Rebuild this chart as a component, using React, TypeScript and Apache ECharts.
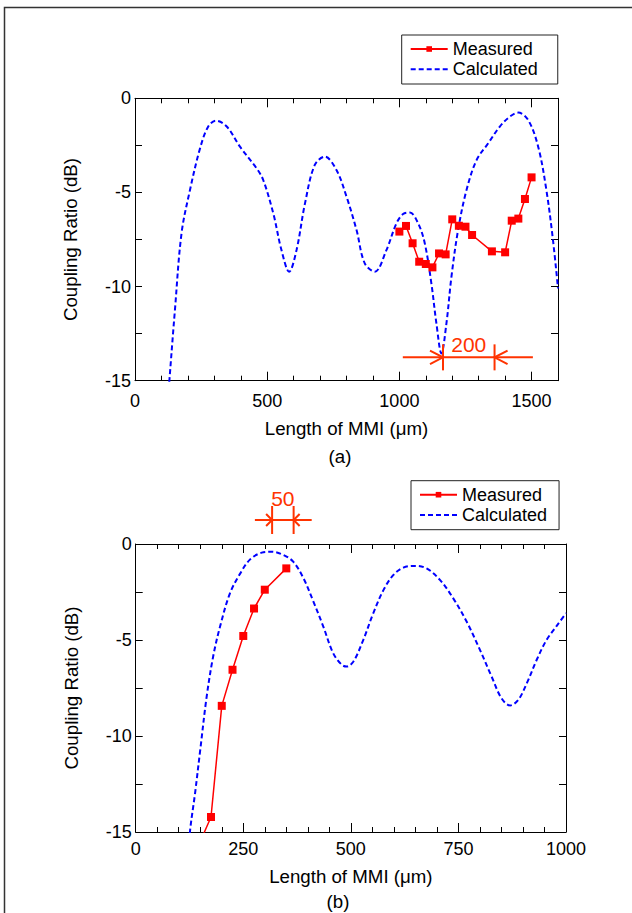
import React, { useEffect, useRef } from "react";
import * as echarts from "echarts";

// ---------- data: panel (a) ----------
const calcA: [number, number][] = [
  [118, -17.2], [130, -15], [151, -11.25], [176, -7.17], [208, -4.87], [246, -2.66],
  [277, -1.5], [306, -1.19], [347, -1.5], [397, -2.57], [460, -3.72], [485, -4.34],
  [523, -6.11], [554, -8.06], [583, -9.21], [611, -8.06], [643, -5.58], [680, -3.54],
  [718, -3.1], [762, -3.81], [800, -5.22], [838, -7.0], [869, -8.77], [907, -9.21],
  [951, -8.06], [989, -6.64], [1014, -6.15], [1040, -6.07], [1071, -6.64], [1096, -7.7],
  [1121, -9.83], [1140, -11.95], [1159, -13.55], [1178, -11.95], [1197, -9.47],
  [1222, -7.0], [1254, -4.87], [1292, -3.28], [1336, -2.39], [1380, -1.5], [1418, -0.97],
  [1449, -0.76], [1487, -1.15], [1525, -2.57], [1556, -4.87], [1581, -7.53], [1600, -10.1],
];
const measA: [number, number][] = [
  [1000, -7.08], [1025, -6.78], [1050, -7.7], [1075, -8.68], [1100, -8.8], [1125, -8.98],
  [1150, -8.24], [1175, -8.29], [1200, -6.43], [1225, -6.77], [1250, -6.82], [1275, -7.26],
  [1350, -8.13], [1400, -8.18], [1425, -6.5], [1450, -6.39], [1475, -5.35], [1500, -4.2],
];
// span marker: [from, to, y, lineStart, lineEnd]
const spanA = [1165, 1360, -13.76, 1013, 1505];
const spanALabel = "200";
const xLabelsA = [0, 500, 1000, 1500];

// ---------- data: panel (b) ----------
const calcB: [number, number][] = [
  [115, -18], [126, -15], [138, -12.97], [150, -10.72], [165, -7.94], [180, -5.86],
  [196, -4.3], [219, -2.57], [243, -1.53], [266, -0.8], [293, -0.45], [316, -0.4],
  [343, -0.57], [366, -0.92], [390, -1.79], [413, -3.0], [436, -4.3], [459, -5.69],
  [479, -6.29], [490, -6.38], [506, -6.12], [529, -4.99], [552, -3.61], [576, -2.39],
  [599, -1.61], [622, -1.23], [649, -1.14], [676, -1.27], [707, -1.87], [738, -2.83],
  [769, -4.04], [800, -5.51], [827, -6.9], [850, -8.03], [870, -8.41], [889, -8.12],
  [909, -7.25], [932, -6.03], [955, -4.99], [978, -4.28], [1000, -3.6],
];
const measB: [number, number][] = [
  [150, -15.5], [175, -14.22], [200, -8.43], [225, -6.55], [250, -4.79], [275, -3.36],
  [300, -2.38], [350, -1.27],
];
const spanB = [317, 367, 1.25, 277, 409];
const spanBLabel = "50";
const xLabelsB = [0, 250, 500, 750, 1000];

const yLabels = [0, -5, -10, -15];

const FONT = "'Liberation Sans', Arial, Helvetica, sans-serif";
const RED = "#ff0000";
const BLUE = "#0000ff";
const ORANGE = "#ff3300";

function xAxes(grid: number, max: number, major: number, minor: number, labels: number[], nameGap: number, labelMargin: number) {
  const base = {
    gridIndex: grid, type: "value", min: 0, max,
    splitLine: { show: false },
  };
  const line = { show: true, onZero: false, lineStyle: { color: "#000", width: 1 } };
  return [
    {
      ...base, position: "bottom", interval: major, axisLine: line,
      axisTick: { inside: true, length: 9, lineStyle: { color: "#000" } },
      axisLabel: {
        fontSize: 18, color: "#000", fontFamily: FONT, margin: labelMargin,
        formatter: (v: number) => (labels.includes(v) ? String(v) : ""),
      },
      name: "Length of MMI (\u03bcm)", nameLocation: "middle", nameGap,
      nameTextStyle: { fontSize: 18.7, color: "#000", fontFamily: FONT },
    },
    {
      ...base, position: "bottom", interval: minor, axisLine: { show: false, onZero: false },
      axisTick: { inside: true, length: 5, lineStyle: { color: "#000" } },
      axisLabel: { show: false },
    },
    {
      ...base, position: "top", interval: major, axisLine: line,
      axisTick: { inside: true, length: 9, lineStyle: { color: "#000" } },
      axisLabel: { show: false },
    },
    {
      ...base, position: "top", interval: minor, axisLine: { show: false, onZero: false },
      axisTick: { inside: true, length: 5, lineStyle: { color: "#000" } },
      axisLabel: { show: false },
    },
  ];
}

function yAxes(grid: number) {
  const base = {
    gridIndex: grid, type: "value", min: -15, max: 0, interval: 2.5,
    splitLine: { show: false },
    axisLine: { show: true, onZero: false, lineStyle: { color: "#000", width: 1 } },
    axisTick: { inside: true, length: 7, lineStyle: { color: "#000" } },
  };
  return [
    {
      ...base, position: "left",
      axisLabel: {
        fontSize: 18, color: "#000", fontFamily: FONT, margin: 4,
        formatter: (v: number) => (yLabels.includes(v) ? String(v) : ""),
      },
      name: "Coupling Ratio (dB)", nameLocation: "middle", nameGap: 55,
      nameTextStyle: { fontSize: 18.7, color: "#000", fontFamily: FONT },
    },
    { ...base, position: "right", axisLabel: { show: false } },
  ];
}

function spanRenderer(tickHalf: number, arrowLen: number, arrowHalf: number, textUp: number, label: string) {
  return (params: any, api: any) => {
    const x1 = api.value(0), x2 = api.value(1), y = api.value(2), e1 = api.value(3), e2 = api.value(4);
    const p1 = api.coord([x1, y]);
    const p2 = api.coord([x2, y]);
    const q1 = api.coord([e1, y]);
    const q2 = api.coord([e2, y]);
    const py = p1[1];
    const st = { stroke: ORANGE, lineWidth: 2, fill: "none" };
    return {
      type: "group",
      children: [
        { type: "line", shape: { x1: q1[0], y1: py, x2: q2[0], y2: py }, style: st },
        { type: "line", shape: { x1: p1[0], y1: py - tickHalf, x2: p1[0], y2: py + tickHalf }, style: st },
        { type: "line", shape: { x1: p2[0], y1: py - tickHalf, x2: p2[0], y2: py + tickHalf }, style: st },
        { type: "polyline", shape: { points: [[p1[0] - arrowLen, py - arrowHalf], [p1[0], py], [p1[0] - arrowLen, py + arrowHalf]] }, style: st },
        { type: "polyline", shape: { points: [[p2[0] + arrowLen, py - arrowHalf], [p2[0], py], [p2[0] + arrowLen, py + arrowHalf]] }, style: st },
        {
          type: "text",
          style: {
            x: (p1[0] + p2[0]) / 2, y: py - textUp, text: label, fill: ORANGE,
            fontSize: 21, fontFamily: FONT, align: "center", verticalAlign: "middle",
          },
        },
      ],
    };
  };
}

function legend(left: number, top: number, padRight: number) {
  return {
    orient: "vertical", left, top,
    data: [
      { name: "Measured" },
      { name: "Calculated", itemStyle: { opacity: 0, color: "transparent", borderWidth: 0 } },
    ],
    itemWidth: 37, itemHeight: 7, itemGap: 2.3,
    padding: [5, padRight, 5.7, 8],
    borderColor: "#222", borderWidth: 1, backgroundColor: "#fff",
    textStyle: { fontSize: 18, color: "#000", fontFamily: FONT, lineHeight: 18 },
    selectedMode: false,
  };
}

export default function App() {
  const ref = useRef<HTMLDivElement>(null);
  useEffect(() => {
    if (!ref.current) return;
    const chart = echarts.init(ref.current, undefined, { renderer: "svg" });
    const measStyle = {
      type: "line", name: "Measured", symbol: "rect", symbolSize: 8,
      itemStyle: { color: RED }, lineStyle: { color: RED, width: 1.5 },
    };
    const calcStyle = {
      type: "line", name: "Calculated", symbol: "none", smooth: 0.35,
      itemStyle: { color: BLUE }, lineStyle: { color: BLUE, width: 2, type: [5, 3] },
    };
    chart.setOption({
      animation: false,
      backgroundColor: "#fff",
      textStyle: { fontFamily: FONT },
      grid: [
        { left: 135, top: 98.3, width: 423, height: 282.4 },
        { left: 135.7, top: 544, width: 430.3, height: 288 },
      ],
      xAxis: [
        ...xAxes(0, 1600, 500, 100, xLabelsA, 38, 11),
        ...xAxes(1, 1000, 250, 50, xLabelsB, 35, 8),
      ],
      yAxis: [...yAxes(0), ...yAxes(1)],
      legend: [legend(401.7, 35, 20), legend(411, 480.7, 12)],
      series: [
        { ...calcStyle, xAxisIndex: 0, yAxisIndex: 0, data: calcA, z: 2 },
        { ...measStyle, xAxisIndex: 0, yAxisIndex: 0, data: measA, z: 3 },
        {
          type: "custom", xAxisIndex: 0, yAxisIndex: 0, clip: false, z: 4,
          renderItem: spanRenderer(13, 13, 6.7, 13, spanALabel),
          encode: { x: [0, 1, 3, 4], y: 2 }, data: [spanA],
        },
        { ...calcStyle, xAxisIndex: 4, yAxisIndex: 2, data: calcB, z: 2 },
        { ...measStyle, xAxisIndex: 4, yAxisIndex: 2, data: measB, z: 3 },
        {
          type: "custom", xAxisIndex: 4, yAxisIndex: 2, clip: false, z: 4,
          renderItem: spanRenderer(14, 6, 6, 22, spanBLabel),
          encode: { x: [0, 1, 3, 4], y: 2 }, data: [spanB],
        },
      ],
      graphic: [
        {
          type: "polyline", silent: true,
          shape: { points: [[4.5, 913], [4.5, 7.5], [632, 7.5]] },
          style: { stroke: "#333", lineWidth: 1.5, fill: "none" },
        },
        {
          type: "text", x: 340, y: 456.7,
          style: { text: "(a)", fontSize: 18.7, fontFamily: FONT, fill: "#000", align: "center", verticalAlign: "middle" },
        },
        {
          type: "text", x: 338, y: 901.7,
          style: { text: "(b)", fontSize: 18.7, fontFamily: FONT, fill: "#000", align: "center", verticalAlign: "middle" },
        },
      ],
    });
    return () => chart.dispose();
  }, []);
  return (
    <div
      ref={ref}
      style={{ position: "absolute", left: 0, top: 0, width: 632, height: 913, background: "#fff" }}
    />
  );
}
